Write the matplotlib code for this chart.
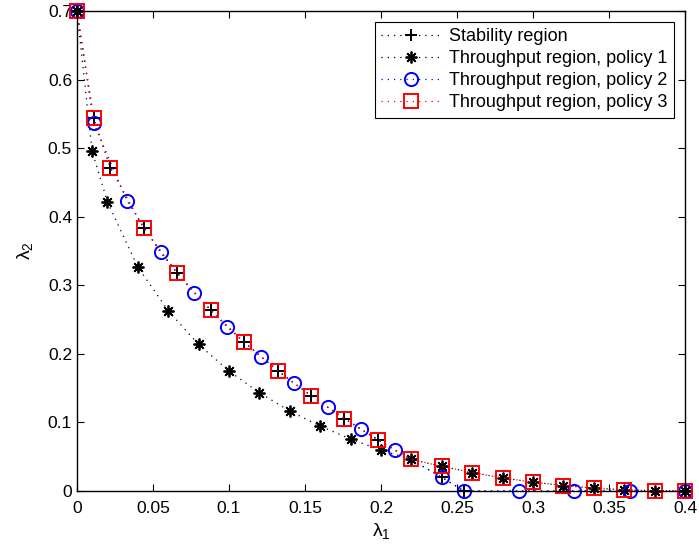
import numpy as np
import matplotlib
matplotlib.use('Agg')
import matplotlib.pyplot as plt

plt.rcParams['font.family'] = ['Liberation Sans', 'DejaVu Sans']
plt.rcParams['mathtext.fontset'] = 'custom'
plt.rcParams['mathtext.rm'] = 'Liberation Sans'
plt.rcParams['mathtext.it'] = 'Liberation Sans'

### DATA ###

# stability region
lam1_stab = [0, 0.011, 0.022, 0.044, 0.066, 0.088, 0.110, 0.132, 0.154, 0.176, 0.198,
             0.240, 0.2545, 0.40]
lam2_stab = [0.70, 0.544, 0.4715, 0.383, 0.3175, 0.264, 0.217, 0.1755, 0.139, 0.1054, 0.0745,
             0.020, 0.0, 0.0]

# throughput region, policy 1
lam1_p1 = [0, 0.01, 0.02, 0.04, 0.06, 0.08, 0.10, 0.12, 0.14, 0.16, 0.18, 0.20,
           0.22, 0.24, 0.26, 0.28, 0.30, 0.32, 0.34, 0.36, 0.38, 0.40]
lam2_p1 = [0.70, 0.496, 0.422, 0.327, 0.263, 0.214, 0.175, 0.1434, 0.1167, 0.0948, 0.0758, 0.0598,
           0.046, 0.036, 0.027, 0.019, 0.013, 0.008, 0.0042, 0.0018, 0.0005, 0.0]

# throughput region, policy 2
lam1_p2 = [0, 0.011, 0.033, 0.055, 0.077, 0.099, 0.121, 0.143, 0.165, 0.187, 0.209,
           0.240, 0.2545, 0.291, 0.327, 0.364, 0.40]
lam2_p2 = [0.70, 0.537, 0.423, 0.348, 0.289, 0.2387, 0.196, 0.157, 0.122, 0.090, 0.0598,
           0.020, 0.0, 0.0, 0.0, 0.0, 0.0]

# throughput region, policy 3
lam1_p3 = [0, 0.011, 0.022, 0.044, 0.066, 0.088, 0.110, 0.132, 0.154, 0.176, 0.198,
           0.22, 0.24, 0.26, 0.28, 0.30, 0.32, 0.34, 0.36, 0.38, 0.40]
lam2_p3 = [0.70, 0.544, 0.4715, 0.383, 0.3175, 0.264, 0.217, 0.1755, 0.139, 0.1054, 0.0745,
           0.046, 0.036, 0.027, 0.019, 0.013, 0.008, 0.0042, 0.0018, 0.0005, 0.0]

###  PLOT  ###

fig = plt.figure(figsize=(6.99, 5.46), dpi=100)
ax = fig.add_axes([0.110, 0.1007, 0.870, 0.879])

dot = (0, (1, 4))
ax.plot(lam1_stab, lam2_stab, color='k', linestyle=dot, linewidth=0.9,
        marker='+', markersize=9, markeredgewidth=1.4, label='Stability region', clip_on=False)
ax.plot(lam1_p1, lam2_p1, color='k', linestyle=dot, linewidth=0.9,
        marker=(8, 2, 0), markersize=8.5, markeredgewidth=1.3,
        label='Throughput region, policy 1', clip_on=False)
ax.plot(lam1_p2, lam2_p2, color='b', linestyle=dot, linewidth=0.9,
        marker='o', markersize=9.5, markerfacecolor='none', markeredgewidth=1.4,
        label='Throughput region, policy 2', clip_on=False)
ax.plot(lam1_p3, lam2_p3, color='r', linestyle=dot, linewidth=0.9,
        marker='s', markersize=9.5, markerfacecolor='none', markeredgewidth=1.4,
        label='Throughput region, policy 3', clip_on=False)

ax.set_xlim(0, 0.4)
ax.set_ylim(0, 0.7)
ax.set_xticks(np.arange(0, 0.41, 0.05))
ax.set_xticklabels(['0', '0.05', '0.1', '0.15', '0.2', '0.25', '0.3', '0.35', '0.4'])
ax.set_yticks(np.arange(0, 0.71, 0.1))
ax.set_yticklabels(['0', '0.1', '0.2', '0.3', '0.4', '0.5', '0.6', '0.7'])
ax.tick_params(direction='in', top=True, right=True, length=5, width=0.8, labelsize=12.5)
ax.tick_params(axis='x', pad=7)
for s in ax.spines.values():
    s.set_linewidth(1.0)

ax.set_xlabel(r'$\lambda_1$', fontsize=14, labelpad=4)
ax.set_ylabel(r'$\lambda_2$', fontsize=14, labelpad=9)

leg = ax.legend(loc='upper right', numpoints=1, fontsize=13, fancybox=False,
                edgecolor='k', framealpha=1, handlelength=3.3, borderpad=0.35,
                labelspacing=0.28, handletextpad=0.5, borderaxespad=0.6)
leg.get_frame().set_linewidth(0.8)

fig.savefig('out.png', dpi=100)
